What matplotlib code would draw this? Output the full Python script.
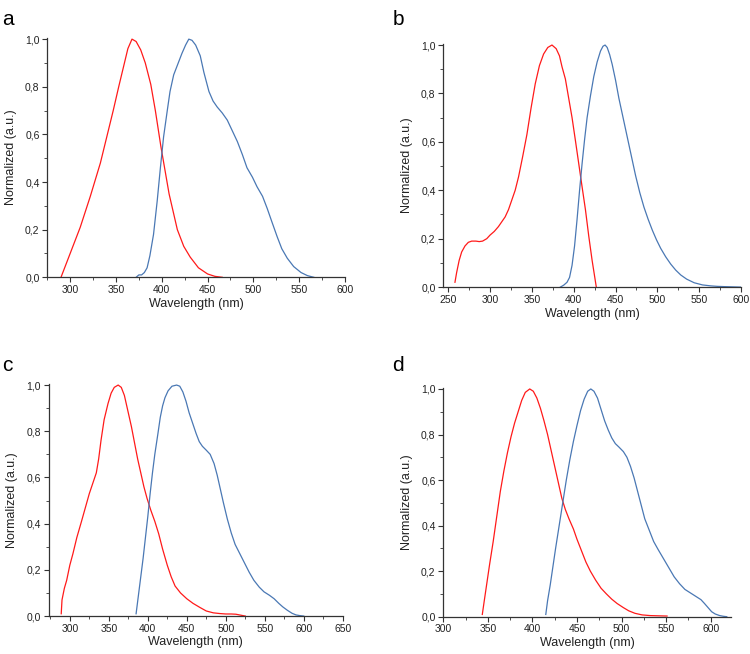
import matplotlib.pyplot as plt
from matplotlib.ticker import MultipleLocator, FuncFormatter

plt.rcParams['font.family'] = ['Liberation Sans', 'DejaVu Sans']

# panel a
a_exc_x = [290, 300, 311, 322, 333, 340, 347, 353, 358, 363, 367.5, 372, 377, 382, 388, 393, 399, 408, 417, 424, 431, 440, 450, 458, 466]
a_exc_y = [0.0, 0.10, 0.21, 0.34, 0.48, 0.59, 0.70, 0.80, 0.88, 0.96, 1.0, 0.99, 0.955, 0.90, 0.81, 0.70, 0.55, 0.35, 0.20, 0.13, 0.085, 0.04, 0.014, 0.004, 0.0]
a_em_x = [372, 375, 378, 381, 384, 387, 391, 395, 398.5, 402, 406, 409, 413, 418, 422, 426, 429.5, 433, 437, 442, 446, 451.5, 456, 460.5, 466, 471.5, 477, 482.5, 488, 493, 499, 504, 510, 515, 520, 526, 531, 537, 544, 552, 559, 566]
a_em_y = [0.0, 0.01, 0.01, 0.02, 0.04, 0.09, 0.18, 0.32, 0.46, 0.59, 0.70, 0.78, 0.85, 0.90, 0.94, 0.975, 1.0, 0.995, 0.975, 0.93, 0.86, 0.78, 0.74, 0.715, 0.69, 0.66, 0.615, 0.57, 0.515, 0.46, 0.42, 0.38, 0.34, 0.29, 0.235, 0.17, 0.12, 0.08, 0.045, 0.02, 0.007, 0.0]

# panel b
b_exc_x = [258, 260, 263, 266, 270, 274, 278, 283, 287, 291, 296, 300, 305, 310, 314, 318, 322, 326, 330, 334, 339, 344, 349, 354, 359, 364, 369, 374, 379, 383, 386, 390, 393, 398, 402, 406, 410, 414, 418, 422, 427]
b_exc_y = [0.02, 0.06, 0.11, 0.145, 0.17, 0.185, 0.19, 0.19, 0.188, 0.19, 0.2, 0.215, 0.23, 0.25, 0.27, 0.29, 0.32, 0.36, 0.40, 0.455, 0.54, 0.63, 0.74, 0.84, 0.915, 0.963, 0.99, 1.0, 0.985, 0.955, 0.91, 0.86, 0.80, 0.70, 0.606, 0.51, 0.414, 0.32, 0.21, 0.11, 0.0]
b_em_x = [384, 388, 392, 395, 398, 401, 404, 407, 410, 413, 416, 420, 424, 428, 432, 435, 437.5, 440, 443, 446, 450, 454, 459, 464, 469, 474, 479, 484, 489, 494, 499, 504, 510, 516, 522, 528, 535, 544, 554, 564, 572, 580, 590, 600]
b_em_y = [0.0, 0.008, 0.02, 0.04, 0.09, 0.17, 0.28, 0.40, 0.51, 0.61, 0.70, 0.79, 0.87, 0.93, 0.975, 0.995, 1.0, 0.99, 0.96, 0.92, 0.855, 0.78, 0.70, 0.62, 0.54, 0.46, 0.39, 0.33, 0.28, 0.235, 0.195, 0.16, 0.125, 0.095, 0.07, 0.05, 0.033, 0.018, 0.009, 0.005, 0.003, 0.002, 0.001, 0.0]

# panel c
c_exc_x = [289, 290, 293, 296, 300, 304, 309, 315, 320, 325, 330, 334, 337, 340, 344, 349, 353, 357, 362, 366, 370, 374, 379, 383, 387, 391, 395, 399, 404, 409, 414, 419, 425, 430, 435, 442, 450, 458, 467, 475, 484, 492, 500, 507, 513, 519, 525]
c_exc_y = [0.01, 0.07, 0.12, 0.155, 0.22, 0.27, 0.34, 0.41, 0.47, 0.53, 0.58, 0.62, 0.68, 0.76, 0.85, 0.92, 0.965, 0.99, 1.0, 0.99, 0.955, 0.895, 0.82, 0.75, 0.68, 0.62, 0.56, 0.51, 0.457, 0.41, 0.356, 0.29, 0.22, 0.17, 0.13, 0.10, 0.075, 0.055, 0.037, 0.022, 0.014, 0.011, 0.009, 0.009, 0.008, 0.004, 0.0]
c_em_x = [385, 388, 391, 394, 397, 400, 403, 406, 409, 413, 416, 419, 422, 426, 431, 437, 441, 445, 449, 453, 458, 462, 466, 470, 475, 480, 485, 489, 493, 497, 502, 507, 512, 518, 524, 530, 536, 543, 549, 556, 562, 568, 573, 579, 585, 590, 595, 600]
c_em_y = [0.01, 0.09, 0.17, 0.25, 0.34, 0.43, 0.53, 0.62, 0.70, 0.79, 0.86, 0.91, 0.945, 0.975, 0.995, 1.0, 0.995, 0.97, 0.93, 0.88, 0.83, 0.79, 0.755, 0.735, 0.718, 0.70, 0.66, 0.61, 0.55, 0.49, 0.42, 0.36, 0.31, 0.27, 0.23, 0.19, 0.155, 0.125, 0.105, 0.09, 0.075, 0.055, 0.04, 0.025, 0.012, 0.005, 0.002, 0.0]

# panel d
d_exc_x = [343.8, 346, 349, 352, 356, 360, 364, 368, 372, 376, 380, 384, 388, 392, 397, 401, 405, 409, 413, 417, 421, 425, 429, 433, 437, 441, 446, 450, 455, 460, 465, 471, 477, 483, 489, 495, 502, 508, 515, 523, 532, 541, 551]
d_exc_y = [0.01, 0.07, 0.15, 0.23, 0.33, 0.44, 0.55, 0.64, 0.72, 0.79, 0.85, 0.90, 0.95, 0.985, 1.0, 0.99, 0.96, 0.915, 0.86, 0.80, 0.73, 0.66, 0.59, 0.52, 0.47, 0.43, 0.385, 0.34, 0.29, 0.24, 0.2, 0.16, 0.125, 0.1, 0.077, 0.058, 0.04, 0.026, 0.015, 0.008, 0.005, 0.004, 0.003]
d_em_x = [415, 417, 420, 423, 426, 430, 434, 438, 442, 446, 450, 454, 458, 462, 465.5, 469, 473, 477, 481, 485, 489, 493, 497, 502, 506, 510, 514, 518, 522, 526, 531, 536, 541, 547, 553, 559, 565, 571, 577, 583, 589, 593, 597, 601, 605, 610, 614, 618]
d_em_y = [0.01, 0.07, 0.14, 0.22, 0.30, 0.40, 0.50, 0.60, 0.69, 0.77, 0.84, 0.905, 0.955, 0.99, 1.0, 0.99, 0.96, 0.91, 0.86, 0.82, 0.785, 0.76, 0.745, 0.725, 0.70, 0.66, 0.61, 0.55, 0.49, 0.43, 0.38, 0.33, 0.295, 0.255, 0.215, 0.175, 0.145, 0.12, 0.105, 0.09, 0.075, 0.058, 0.04, 0.022, 0.012, 0.005, 0.002, 0.0]

panels = [
    ('a', [0.063, 0.576, 0.397, 0.366], (275, 600), 300, a_exc_x, a_exc_y, a_em_x, a_em_y),
    ('b', [0.591, 0.561, 0.397, 0.372], (244, 600), 250, b_exc_x, b_exc_y, b_em_x, b_em_y),
    ('c', [0.065, 0.058, 0.392, 0.355], (273, 650), 300, c_exc_x, c_exc_y, c_em_x, c_em_y),
    ('d', [0.591, 0.057, 0.384, 0.350], (300, 623), 300, d_exc_x, d_exc_y, d_em_x, d_em_y),
]

RED = '#ff1a1a'
BLUE = '#4a78b4'
AXC = '#333333'

fig = plt.figure(figsize=(7.5, 6.54), dpi=100)

for letter, rect, xlim, first_tick, ex, ey, mx, my in panels:
    ax = fig.add_axes(rect)
    ax.plot(ex, ey, color=RED, lw=0.9)
    ax.plot(mx, my, color=BLUE, lw=0.9)
    ax.set_xlim(*xlim)
    ax.set_ylim(0, 1.005)
    ax.spines['top'].set_visible(False)
    ax.spines['right'].set_visible(False)
    for s in ('left', 'bottom'):
        ax.spines[s].set_color(AXC)
        ax.spines[s].set_linewidth(0.9)
    ax.set_xticks(list(range(first_tick, int(xlim[1]) + 1, 50)))
    ax.xaxis.set_minor_locator(MultipleLocator(25))
    ax.yaxis.set_major_locator(MultipleLocator(0.2))
    ax.yaxis.set_minor_locator(MultipleLocator(0.1))
    ax.yaxis.set_major_formatter(FuncFormatter(lambda v, p: f"{v:.1f}".replace('.', ',')))
    ax.tick_params(which='major', direction='out', length=3.5, width=0.8, color=AXC,
                   labelsize=7.5, labelcolor='#222222', pad=2)
    ax.tick_params(which='minor', direction='out', length=2, width=0.6, color=AXC)
    ax.set_xlabel('Wavelength (nm)', fontsize=9, color='#222222', labelpad=2)
    ax.set_ylabel('Normalized (a.u.)', fontsize=9, color='#222222', labelpad=6)

fig.text(0.003, 0.985, 'a', fontsize=15, va='top', ha='left')
fig.text(0.523, 0.985, 'b', fontsize=15, va='top', ha='left')
fig.text(0.003, 0.455, 'c', fontsize=15, va='top', ha='left')
fig.text(0.523, 0.455, 'd', fontsize=15, va='top', ha='left')

fig.savefig('out.png', dpi=100)
